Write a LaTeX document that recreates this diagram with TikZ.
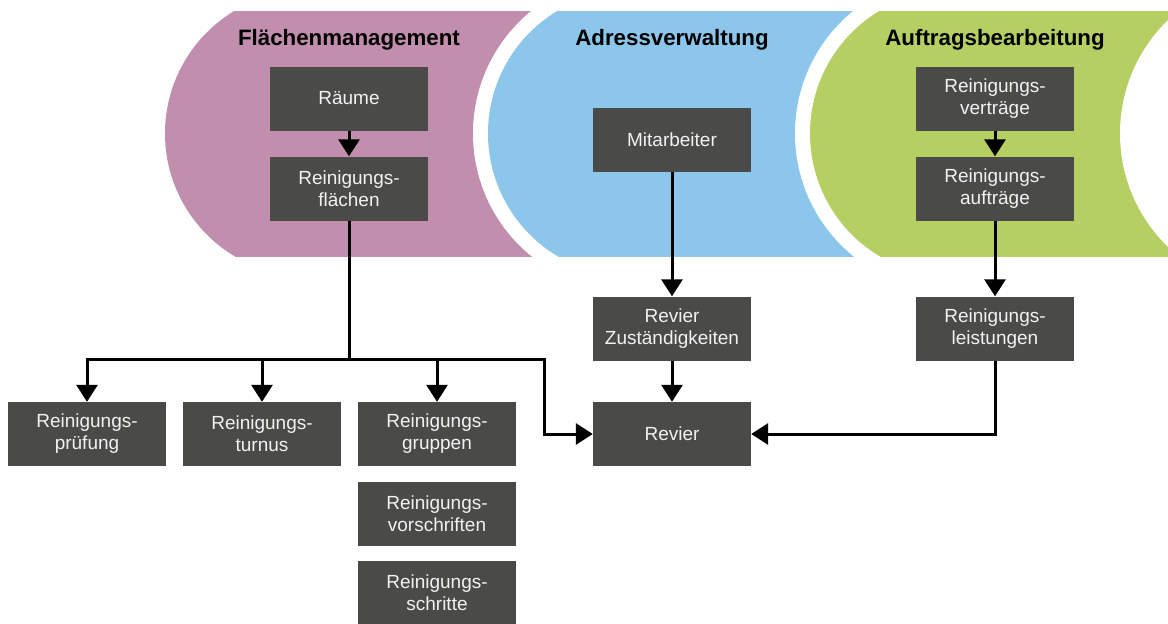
\documentclass[tikz,border=0pt]{standalone}
\usepackage{fontspec}
\setmainfont{Liberation Sans}
\usetikzlibrary{arrows.meta}
\definecolor{cpurple}{HTML}{C28EAD}
\definecolor{cblue}{HTML}{8CC6EB}
\definecolor{cgreen}{HTML}{B5CF62}
\definecolor{cbox}{HTML}{4A4A48}
\definecolor{cboxtext}{HTML}{F2F2F2}
\tikzset{
  stepbox/.style={fill=cbox, text=cboxtext, minimum width=158pt, minimum height=64pt,
    inner sep=0pt, align=center, font=\fontsize{19}{22}\selectfont},
  title/.style={font=\fontsize{22.3}{26}\selectfont\bfseries, text=black},
  conn/.style={line width=3pt, draw=black},
  arr/.style={conn, -{Triangle[width=21pt,length=17pt]}},
}
\begin{document}
\begin{tikzpicture}[x=1pt,y=-1pt]
\useasboundingbox (0,0) rectangle (1168,624);
% phase shapes
\begin{scope}
  \clip (0,11) rectangle (1168,256);
  \fill[cpurple] (308,133.5) circle (143pt);
  \fill[cpurple] (308,0) rectangle (640,300);
  \fill[white] (631,133.5) circle (158pt);
  \fill[white] (631,0) rectangle (960,300);
  \fill[cblue] (631,133.5) circle (143pt);
  \fill[cblue] (631,0) rectangle (960,300);
  \fill[white] (953,133.5) circle (158pt);
  \fill[white] (953,0) rectangle (1168,300);
  \fill[cgreen] (953,133.5) circle (143pt);
  \fill[cgreen] (953,0) rectangle (1168,300);
  \fill[white] (1278,133.5) circle (158pt);
\end{scope}
% titles
\node[title] (t1) at (349,40) {Flächenmanagement};
\node[title] (t2) at (672,40) {Adressverwaltung};
\node[title] (t3) at (995,40) {Auftragsbearbeitung};
% boxes
\node[stepbox] (raeume) at (349,98.5) {Räume};
\node[stepbox] (flaechen) at (349,188.5) {Reinigungs-\\flächen};
\node[stepbox] (mitarb) at (672,139.5) {Mitarbeiter};
\node[stepbox] (vertr) at (995,98.5) {Reinigungs-\\verträge};
\node[stepbox] (auftr) at (995,188.5) {Reinigungs-\\aufträge};
\node[stepbox] (zust) at (672,328.5) {Revier\\Zuständigkeiten};
\node[stepbox] (leist) at (995,328.5) {Reinigungs-\\leistungen};
\node[stepbox] (revier) at (672,434) {Revier};
\node[stepbox] (pruef) at (87,434) {Reinigungs-\\prüfung};
\node[stepbox] (turnus) at (262,434) {Reinigungs-\\turnus};
\node[stepbox] (gruppen) at (437,434) {Reinigungs-\\gruppen};
\node[stepbox] (vorschr) at (437,514) {Reinigungs-\\vorschriften};
\node[stepbox] (schritte) at (437,593) {Reinigungs-\\schritte};
% connectors
\coordinate (j) at (349,359);
\coordinate (k) at (544,359);
\draw[arr] (raeume) -- (flaechen);
\draw[conn] (flaechen.south) -- (j);
\draw[arr] (j) -| (pruef.north);
\draw[arr] (j) -| (turnus.north);
\draw[arr] (j) -| (gruppen.north);
\draw[arr] (j) -- (k) |- (revier.west);
\draw[arr] (mitarb) -- (zust);
\draw[arr] (zust) -- (revier);
\draw[arr] (vertr) -- (auftr);
\draw[arr] (auftr) -- (leist);
\draw[arr] (leist.south) |- (revier.east);
\end{tikzpicture}
\end{document}
